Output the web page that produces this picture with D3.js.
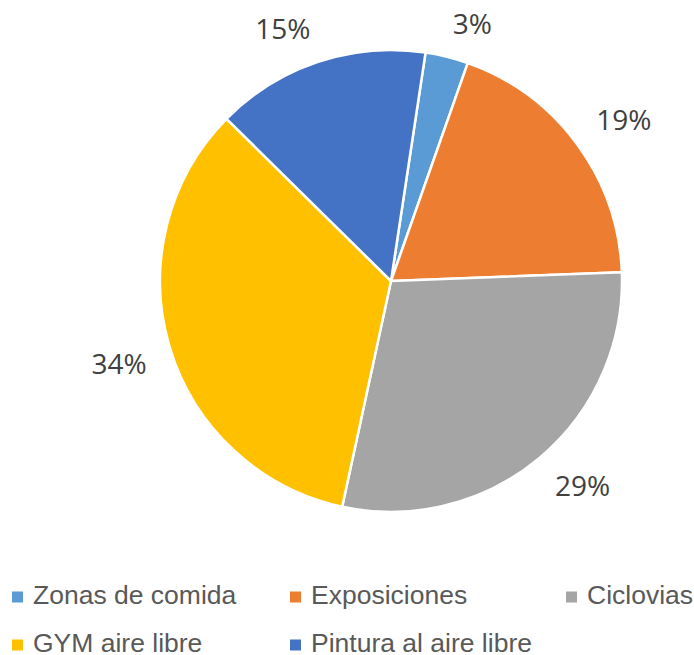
<!DOCTYPE html>
<html><head><meta charset="utf-8">
<script src="https://cdn.jsdelivr.net/npm/d3@7"></script>
<style>body{margin:0;background:#fff}svg{display:block}</style>
</head><body>
<svg id="c" width="694" height="655"></svg>
<script>
const categories = ["Zonas de comida","Exposiciones","Ciclovias","GYM aire libre","Pintura al aire libre"];
const values = [3,19,29,34,15];
const labels = ["3%","19%","29%","34%","15%"];
const colors = ["#5B9BD5","#ED7D31","#A5A5A5","#FFC000","#4472C4"];

const svg = d3.select("#c");
const cx = 391, cy = 281, R = 231;
const start = 8.6 * Math.PI / 180;
const pie = d3.pie().sort(null).value(d => d).startAngle(start).endAngle(start + 2*Math.PI);
const arcs = pie(values);
const arc = d3.arc().innerRadius(0).outerRadius(R);
const g = svg.append("g").attr("transform", `translate(${cx},${cy})`);
g.selectAll("path").data(arcs).join("path")
  .attr("d", arc).attr("fill", (d,i) => colors[i])
  .attr("stroke", "#fff").attr("stroke-width", 2.5).attr("stroke-linejoin","round");

// labels: nearest corner of the text box sits on the mid-angle ray, just outside the pie
const fs = 28;
const capH = fs * 0.714;
g.selectAll("text.lab").data(arcs).join("text").attr("class","lab")
  .attr("font-family","'Open Sans', sans-serif").attr("font-size", fs).attr("fill","#404040")
  .attr("text-anchor","middle")
  .text((d,i) => labels[i])
  .each(function(d){
    const w = this.getComputedTextLength();
    const a = (d.startAngle + d.endAngle)/2;
    const s = Math.sin(a), c = -Math.cos(a);
    const r = R + 24;
    const px = r*s, py = r*c;
    const mx = px + Math.sign(s)*w/2;
    const my = py + Math.sign(c)*capH/2;
    d3.select(this).attr("x", mx).attr("y", my + capH/2);
  });

// legend
const legX = [12, 290, 566];
const legY = [597, 645];
const lg = svg.append("g");
categories.forEach((name, i) => {
  const col = i % 3, row = Math.floor(i / 3);
  const x = legX[col], y = legY[row];
  lg.append("rect").attr("x", x).attr("y", y - 5.5).attr("width", 11).attr("height", 11).attr("fill", colors[i]);
  lg.append("text").attr("x", x + 21).attr("y", y).attr("dy","0.28em")
    .attr("font-family","'Liberation Sans', Arial, sans-serif").attr("font-size", 26.5).attr("fill","#595959")
    .text(name);
});
</script>
</body></html>
